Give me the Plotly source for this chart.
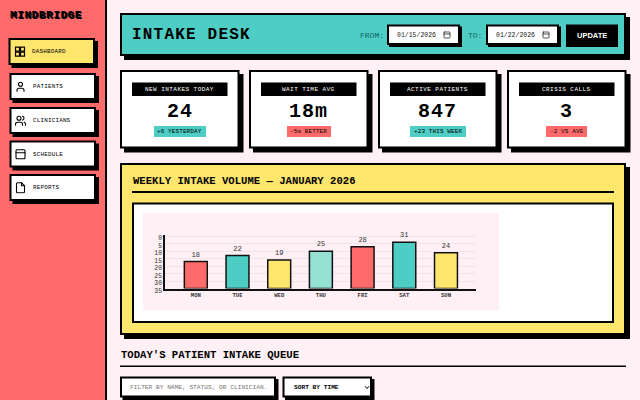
import base64
import plotly.graph_objects as go

# chart data
days = ['MON', 'TUE', 'WED', 'THU', 'FRI', 'SAT', 'SUN']
intakes = [18, 22, 19, 25, 28, 31, 24]
bar_colors = ['#FF6B6B', '#4ECDC4', '#FFE66D', '#95E1D3', '#FF6B6B', '#4ECDC4', '#FFE66D']
y_ticks = [0, 5, 10, 15, 20, 25, 30, 35]
y_tick_labels = ['35', '30', '25', '20', '15', '10', '5', '0']

# page content
nav_labels = ['DASHBOARD', 'PATIENTS', 'CLINICIANS', 'SCHEDULE', 'REPORTS']
kpi_labels = ['NEW INTAKES TODAY', 'WAIT TIME AVG', 'ACTIVE PATIENTS', 'CRISIS CALLS']
kpi_values = ['24', '18m', '847', '3']
kpi_deltas = ['+6 YESTERDAY', '-5m BETTER', '+23 THIS WEEK', '-2 VS AVG']

CORAL = '#FF6B6B'
TEAL = '#4ECDC4'
YELLOW = '#FFE66D'
PINK = '#FFF0F5'
BLACK = '#000000'
MONO = 'Liberation Mono'
W, H = 640, 400

shapes = []
notes = []
images = []


def rect(x0, y0, x1, y1, fill, line=0, shadow=0):
    if shadow:
        shapes.append(dict(type='rect', xref='paper', yref='paper', layer='below',
                           x0=(x0 + shadow) / W, x1=(x1 + shadow) / W,
                           y0=1 - (y0 + shadow) / H, y1=1 - (y1 + shadow) / H,
                           fillcolor=BLACK, line_width=0))
    d = line / 2
    shapes.append(dict(type='rect', xref='paper', yref='paper', layer='below',
                       x0=(x0 + d) / W, x1=(x1 - d) / W,
                       y0=1 - (y0 + d) / H, y1=1 - (y1 - d) / H,
                       fillcolor=fill, line=dict(color=BLACK, width=line)))


def label(x, y, text, size, color=BLACK, bold=False, anchor='left', family=MONO, spacing=0, shadow=None):
    if spacing:
        text = f'<span style="letter-spacing:{spacing}px">{text}</span>'
    font = dict(family=family, size=size, color=color, weight=700 if bold else 400)
    if shadow:
        font['shadow'] = shadow
    notes.append(dict(x=x / W, y=1 - y / H, xref='paper', yref='paper', text=text, showarrow=False,
                      xanchor=anchor, yanchor='middle', align=anchor, borderpad=0, font=font))


def icon(cx, cy, size, body, width=2.2):
    svg = ('<svg xmlns="http://www.w3.org/2000/svg" viewBox="0 0 24 24" fill="none" stroke="#000" '
           f'stroke-width="{width}" stroke-linecap="round" stroke-linejoin="round">{body}</svg>')
    src = 'data:image/svg+xml;base64,' + base64.b64encode(svg.encode()).decode()
    images.append(dict(source=src, xref='paper', yref='paper', x=cx / W, y=1 - cy / H,
                       sizex=size / W, sizey=size / H, xanchor='center', yanchor='middle',
                       sizing='stretch', layer='above'))


ICON_GRID = ('<rect x="3" y="3" width="8" height="8"/><rect x="13" y="3" width="8" height="8"/>'
             '<rect x="3" y="13" width="8" height="8"/><rect x="13" y="13" width="8" height="8"/>')
ICON_USER = '<path d="M19 21v-2a4 4 0 0 0-4-4H9a4 4 0 0 0-4 4v2"/><circle cx="12" cy="7" r="4"/>'
ICON_USERS = ('<path d="M16 21v-2a4 4 0 0 0-4-4H6a4 4 0 0 0-4 4v2"/><circle cx="9" cy="7" r="4"/>'
              '<path d="M22 21v-2a4 4 0 0 0-3-3.87"/><path d="M16 3.13a4 4 0 0 1 0 7.75"/>')
ICON_CAL = '<rect x="3" y="3" width="18" height="18" rx="2"/><path d="M3 9h18"/>'
ICON_FILE = '<path d="M14 2H6a2 2 0 0 0-2 2v16a2 2 0 0 0 2 2h12a2 2 0 0 0 2-2V8z"/><path d="M14 2v6h6"/>'
ICON_CHEVRON = '<path d="M5 8l7 8 7-8"/>'
nav_icons = [ICON_GRID, ICON_USER, ICON_USERS, ICON_CAL, ICON_FILE]

# sidebar
rect(0, 0, 107, 400, BLACK)
rect(0, 0, 105, 400, CORAL)
label(9, 15.5, 'MINDBRIDGE', 11, bold=True, spacing=0.6, shadow='1px 1px 0 #000')
nav_tops = [38, 73, 107, 140.5, 174]
for i, top in enumerate(nav_tops):
    offset = 0 if i else -1
    rect(9.5 + offset, top, 96 + offset, top + 27, YELLOW if i == 0 else 'white', line=2, shadow=3)
    icon(20.5 + offset * 0.5, top + 13.7, 12, nav_icons[i], 2.4 if i == 0 else 2.2)
    label(32 + offset, top + 13.7, nav_labels[i], 5.9, spacing=0.2)

# header banner
rect(120, 13, 626, 56, TEAL, line=2, shadow=4)
label(131, 35, 'INTAKE DESK', 16, bold=True, spacing=1.2)
label(359, 35, 'FROM:', 8, color='#0B6660')
label(467, 35, 'TO:', 8, color='#0B6660')
for x0, date in [(387, '01/15/2026'), (486, '01/22/2026')]:
    rect(x0, 24.5, x0 + 73, 45, 'white', line=2, shadow=2)
    label(x0 + 8.5, 35, date, 6.5, color='#222222')
    icon(x0 + 60, 35, 8, ICON_CAL, 2)
rect(566, 24.5, 618, 47, BLACK)
label(592, 35, 'UPDATE', 7.5, color='white', bold=True, anchor='center', family='Liberation Sans')

# kpi cards
card_lefts = [120, 249, 378, 507]
delta_boxes = [(154, 206), (287, 331), (410, 466), (546, 587)]
delta_colors = [TEAL, CORAL, TEAL, CORAL]
for i, x0 in enumerate(card_lefts):
    mid = x0 + 59.7
    rect(x0, 70, x0 + 119.5, 148.5, 'white', line=2, shadow=4)
    rect(x0 + 12, 82.5, x0 + 107.5, 96, BLACK)
    label(mid, 89, kpi_labels[i], 6, color='white', anchor='center', spacing=0.45)
    label(mid, 111, kpi_values[i], 20, bold=True, anchor='center', spacing=1)
    rect(delta_boxes[i][0], 126, delta_boxes[i][1], 137, delta_colors[i])
    label(mid, 131.5, kpi_deltas[i], 6, anchor='center', spacing=0.1)

# chart panel
rect(120, 163, 626, 335, YELLOW, line=2, shadow=4)
label(132, 181, 'WEEKLY INTAKE VOLUME — JANUARY 2026', 10.6, bold=True)
rect(132, 191, 614, 193, BLACK)
rect(132, 202.5, 614, 323, 'white', line=2)
rect(143, 213, 499, 310.5, PINK)

# queue section
label(120, 355, "TODAY'S PATIENT INTAKE QUEUE", 10.6, bold=True)
rect(120, 365.5, 626, 367, BLACK)
rect(120, 376.5, 276, 397.5, 'white', line=2, shadow=2.5)
label(129, 387.5, 'FILTER BY NAME, STATUS, OR CLINICIAN.', 6.2, color='#757575')
rect(282.5, 376.5, 372, 397.5, 'white', line=2, shadow=2.5)
label(293, 387.5, 'SORT BY TIME', 6.2, bold=True)
icon(367, 387.5, 6, ICON_CHEVRON, 4)

fig = go.Figure(go.Bar(
    x=days, y=intakes, width=0.55,
    marker=dict(color=bar_colors, line=dict(color='#111111', width=1.5)),
    text=intakes, textposition='outside', cliponaxis=False,
    textfont=dict(family=MONO, size=7, color='#333333'),
))

fig.update_layout(
    width=W, height=H, autosize=False,
    margin=dict(l=0, r=0, t=0, b=0, autoexpand=False),
    paper_bgcolor=PINK, plot_bgcolor='rgba(0,0,0,0)',
    showlegend=False, shapes=shapes, annotations=notes, images=images,
    xaxis=dict(domain=[165 / W, 476 / W], range=[-0.739, 6.72], type='category',
               categoryorder='array', categoryarray=days, showgrid=False,
               showline=True, linecolor='#111111', linewidth=1.5, ticks='', zeroline=False,
               tickfont=dict(family=MONO, size=5.6, color='#333333', weight=700)),
    yaxis=dict(domain=[1 - 288.5 / H, 1 - 235 / H], range=[0, 35.8],
               tickvals=y_ticks, ticktext=y_tick_labels, showgrid=True,
               gridcolor='rgba(0,0,0,0.05)', gridwidth=1, zeroline=False,
               showline=True, linecolor='#111111', linewidth=1.5, ticks='',
               ticklabelshift=2,
               tickfont=dict(family=MONO, size=6.4, color='#333333')),
)

fig.write_html('out.html', config={'displayModeBar': False},
               post_script="document.body.style.margin='0';document.documentElement.style.overflow='hidden';")
